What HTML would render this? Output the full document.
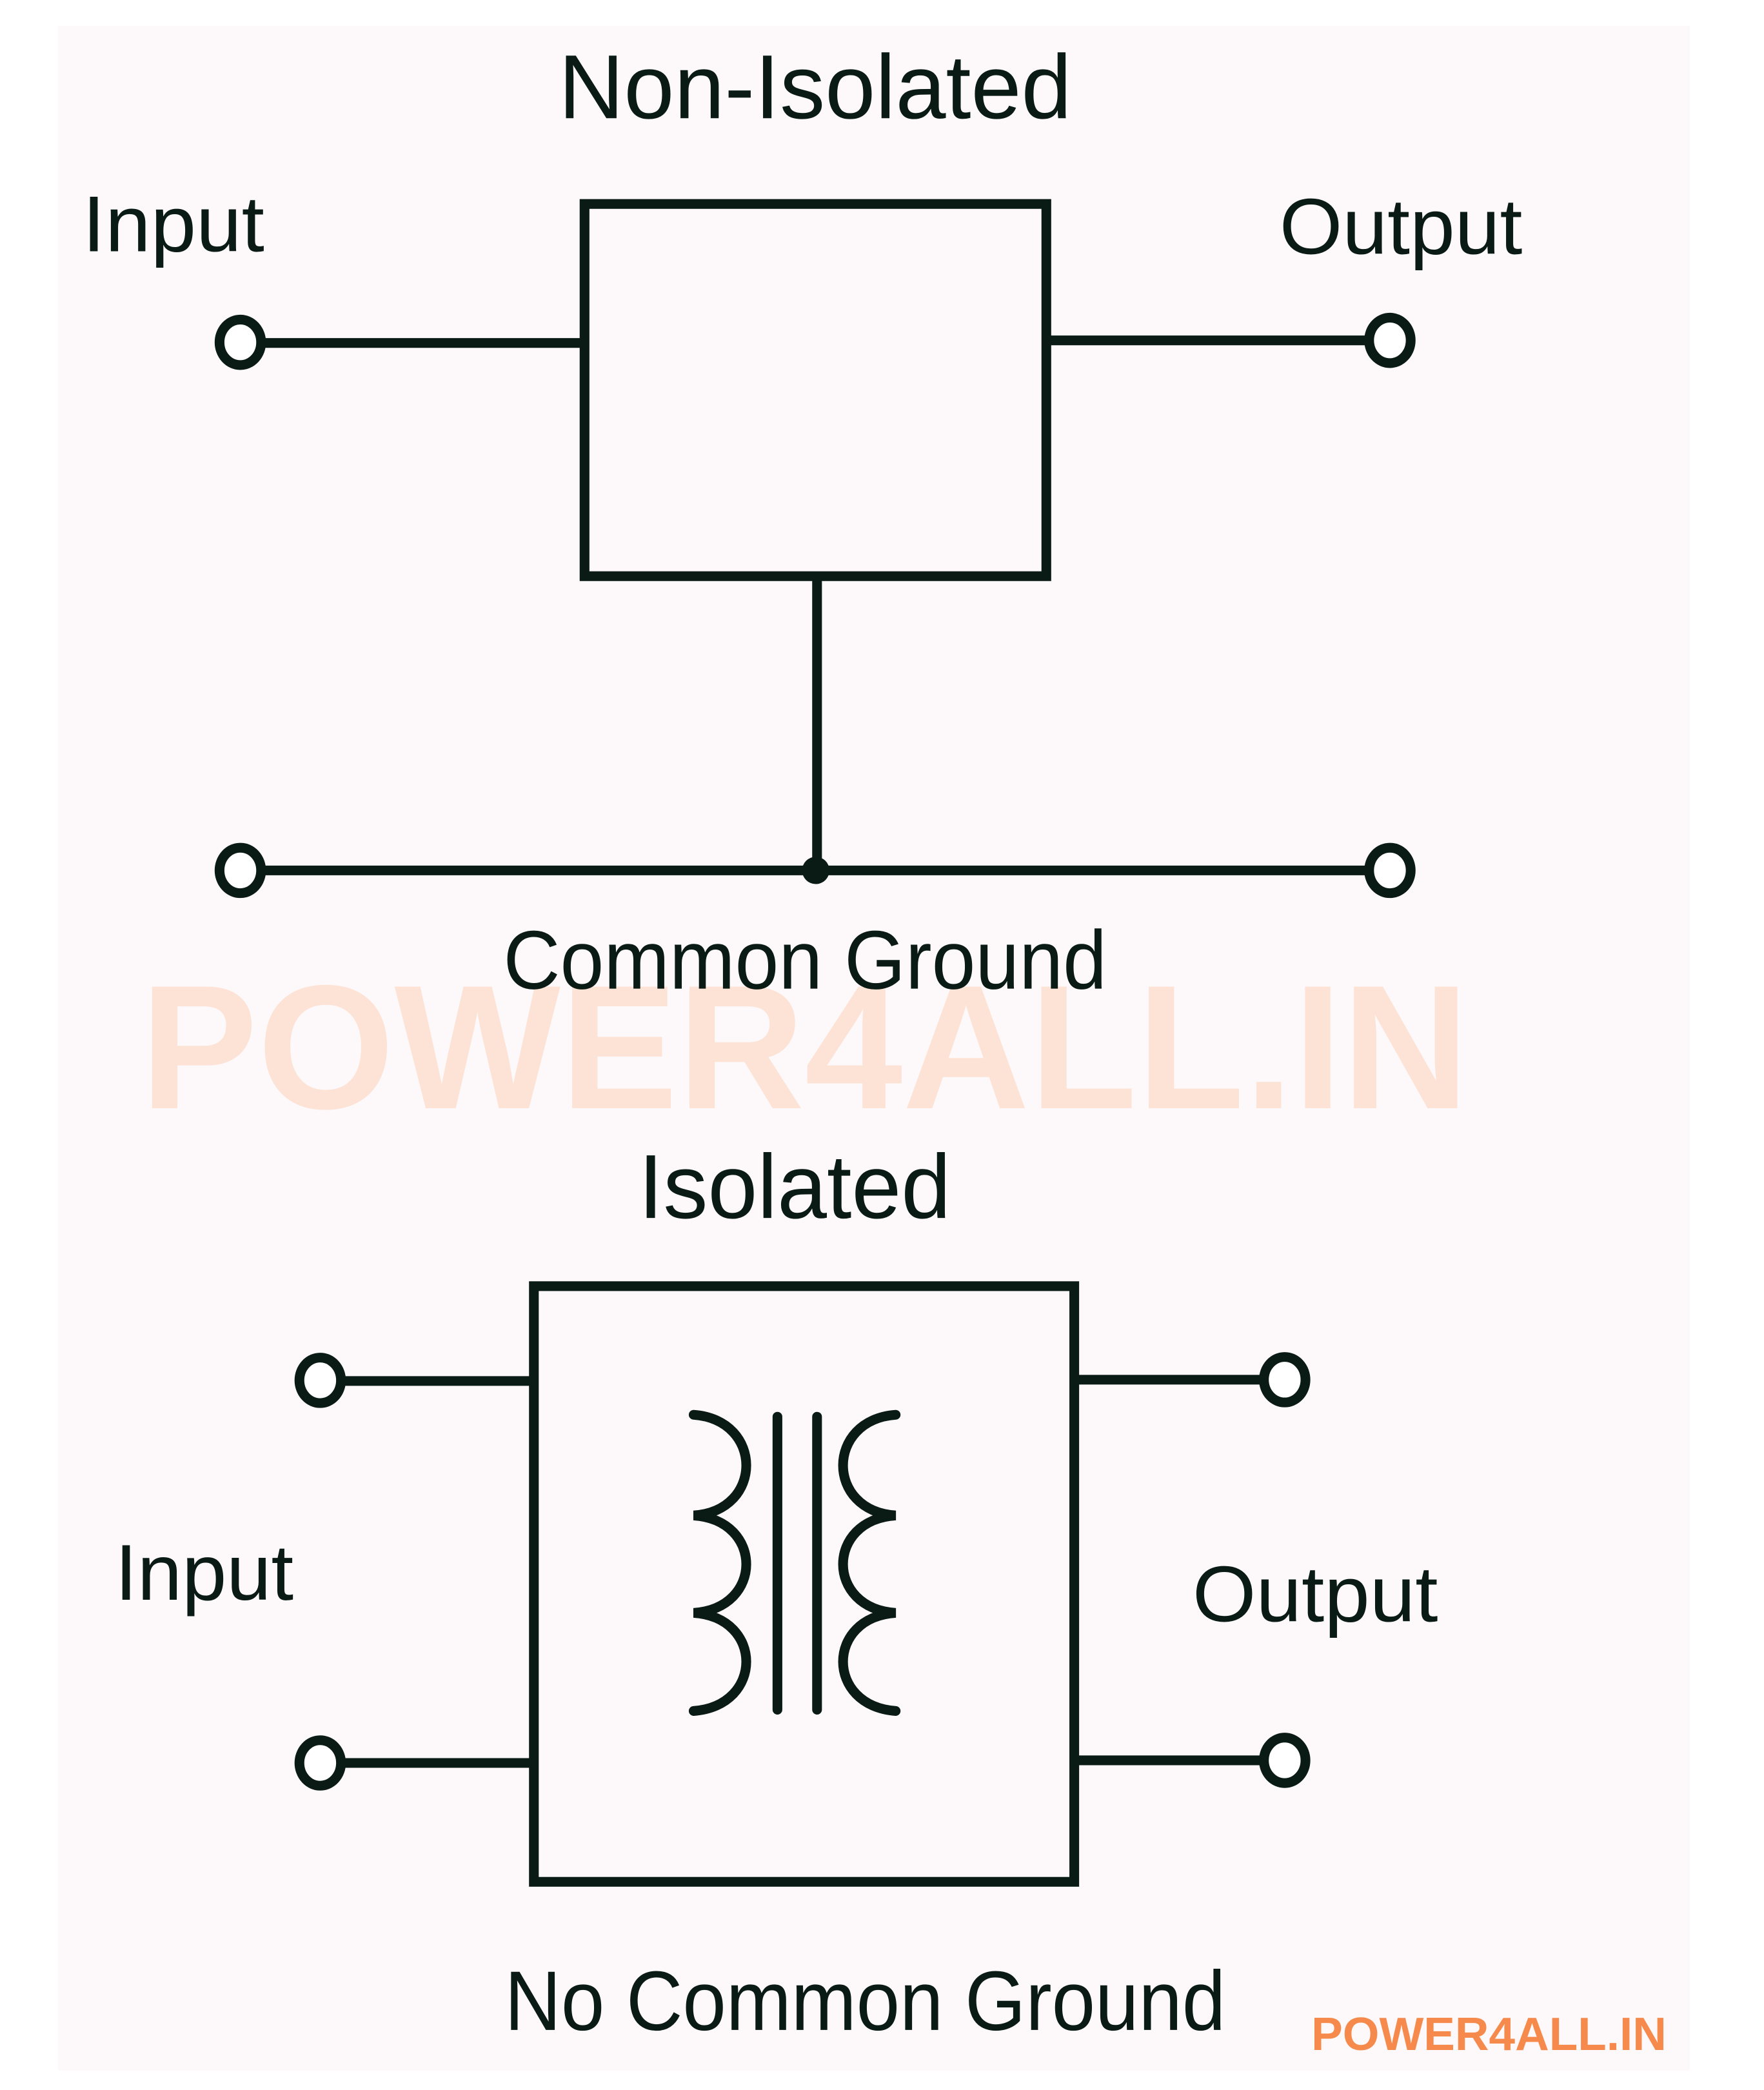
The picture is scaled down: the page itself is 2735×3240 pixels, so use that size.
<!DOCTYPE html>
<html><head><meta charset="utf-8"><style>
html,body{margin:0;padding:0;background:#fff;}
svg{display:block;}
text{font-family:"Liberation Sans",sans-serif;fill:#0a1a14;}
</style></head><body>
<svg width="2735" height="3240" viewBox="0 0 2735 3240" xmlns="http://www.w3.org/2000/svg">
<rect x="0" y="0" width="2735" height="3240" fill="#ffffff"/>
<rect x="90" y="40" width="2530" height="3170" fill="#fdf9fa"/>
<g transform="scale(1.007)">
<text x="216" y="1706" font-size="272" font-weight="bold" textLength="2046" lengthAdjust="spacingAndGlyphs" style="fill:#fde3d6">POWER4ALL.IN</text>

<g stroke="#0a1a14" stroke-width="15" fill="none">
<rect x="900" y="314" width="711" height="573"/>
<line x1="404" y1="528" x2="900" y2="528"/>
<line x1="1611" y1="524" x2="2106" y2="524"/>
<line x1="1258" y1="887" x2="1258" y2="1340"/>
<line x1="404" y1="1340" x2="2106" y2="1340"/>
<ellipse cx="370" cy="527" rx="32" ry="35" fill="#fff"/>
<ellipse cx="2140" cy="524" rx="32" ry="35" fill="#fff"/>
<ellipse cx="370" cy="1340" rx="32" ry="35" fill="#fff"/>
<ellipse cx="2140" cy="1340" rx="32" ry="35" fill="#fff"/>
<rect x="822" y="1980" width="832" height="917"/>
<line x1="527" y1="2126" x2="822" y2="2126"/>
<line x1="527" y1="2714" x2="822" y2="2714"/>
<line x1="1654" y1="2124" x2="1944" y2="2124"/>
<line x1="1654" y1="2710" x2="1944" y2="2710"/>
<ellipse cx="493" cy="2125" rx="32" ry="35" fill="#fff"/>
<ellipse cx="493" cy="2714" rx="32" ry="35" fill="#fff"/>
<ellipse cx="1978" cy="2124" rx="32" ry="35" fill="#fff"/>
<ellipse cx="1978" cy="2710" rx="32" ry="35" fill="#fff"/>
<g stroke-width="15" stroke-linecap="round" transform="translate(-4,-14)">
<path d="M1072,2192 C1180,2200 1180,2340 1072,2347 C1180,2354 1180,2490 1072,2497 C1180,2504 1180,2640 1072,2648"/>
<path d="M1383,2192 C1275,2200 1275,2340 1383,2347 C1275,2354 1275,2490 1383,2497 C1275,2504 1275,2640 1383,2648"/>
<line x1="1201" y1="2195" x2="1201" y2="2646"/>
<line x1="1262" y1="2195" x2="1262" y2="2646"/>
</g>
</g>
<circle cx="1256" cy="1340" r="21" fill="#0a1a14"/>

<text x="860" y="182" font-size="140" textLength="790" lengthAdjust="spacingAndGlyphs">Non-Isolated</text>
<text x="127" y="387" font-size="122" textLength="280" lengthAdjust="spacingAndGlyphs">Input</text>
<text x="1970" y="391" font-size="122" textLength="374" lengthAdjust="spacingAndGlyphs">Output</text>
<text x="775" y="1522" font-size="128" textLength="929" lengthAdjust="spacingAndGlyphs">Common Ground</text>
<text x="983" y="1875" font-size="140" textLength="481" lengthAdjust="spacingAndGlyphs">Isolated</text>
<text x="177" y="2463" font-size="122" textLength="275" lengthAdjust="spacingAndGlyphs">Input</text>
<text x="1836" y="2496" font-size="122" textLength="378" lengthAdjust="spacingAndGlyphs">Output</text>
<text x="777" y="3125" font-size="130" textLength="1110" lengthAdjust="spacingAndGlyphs">No Common Ground</text>
<text x="2019" y="3156" font-size="72" font-weight="bold" textLength="547" lengthAdjust="spacingAndGlyphs" style="fill:#f58a4c">POWER4ALL.IN</text>
</g>
</svg>
</body></html>
